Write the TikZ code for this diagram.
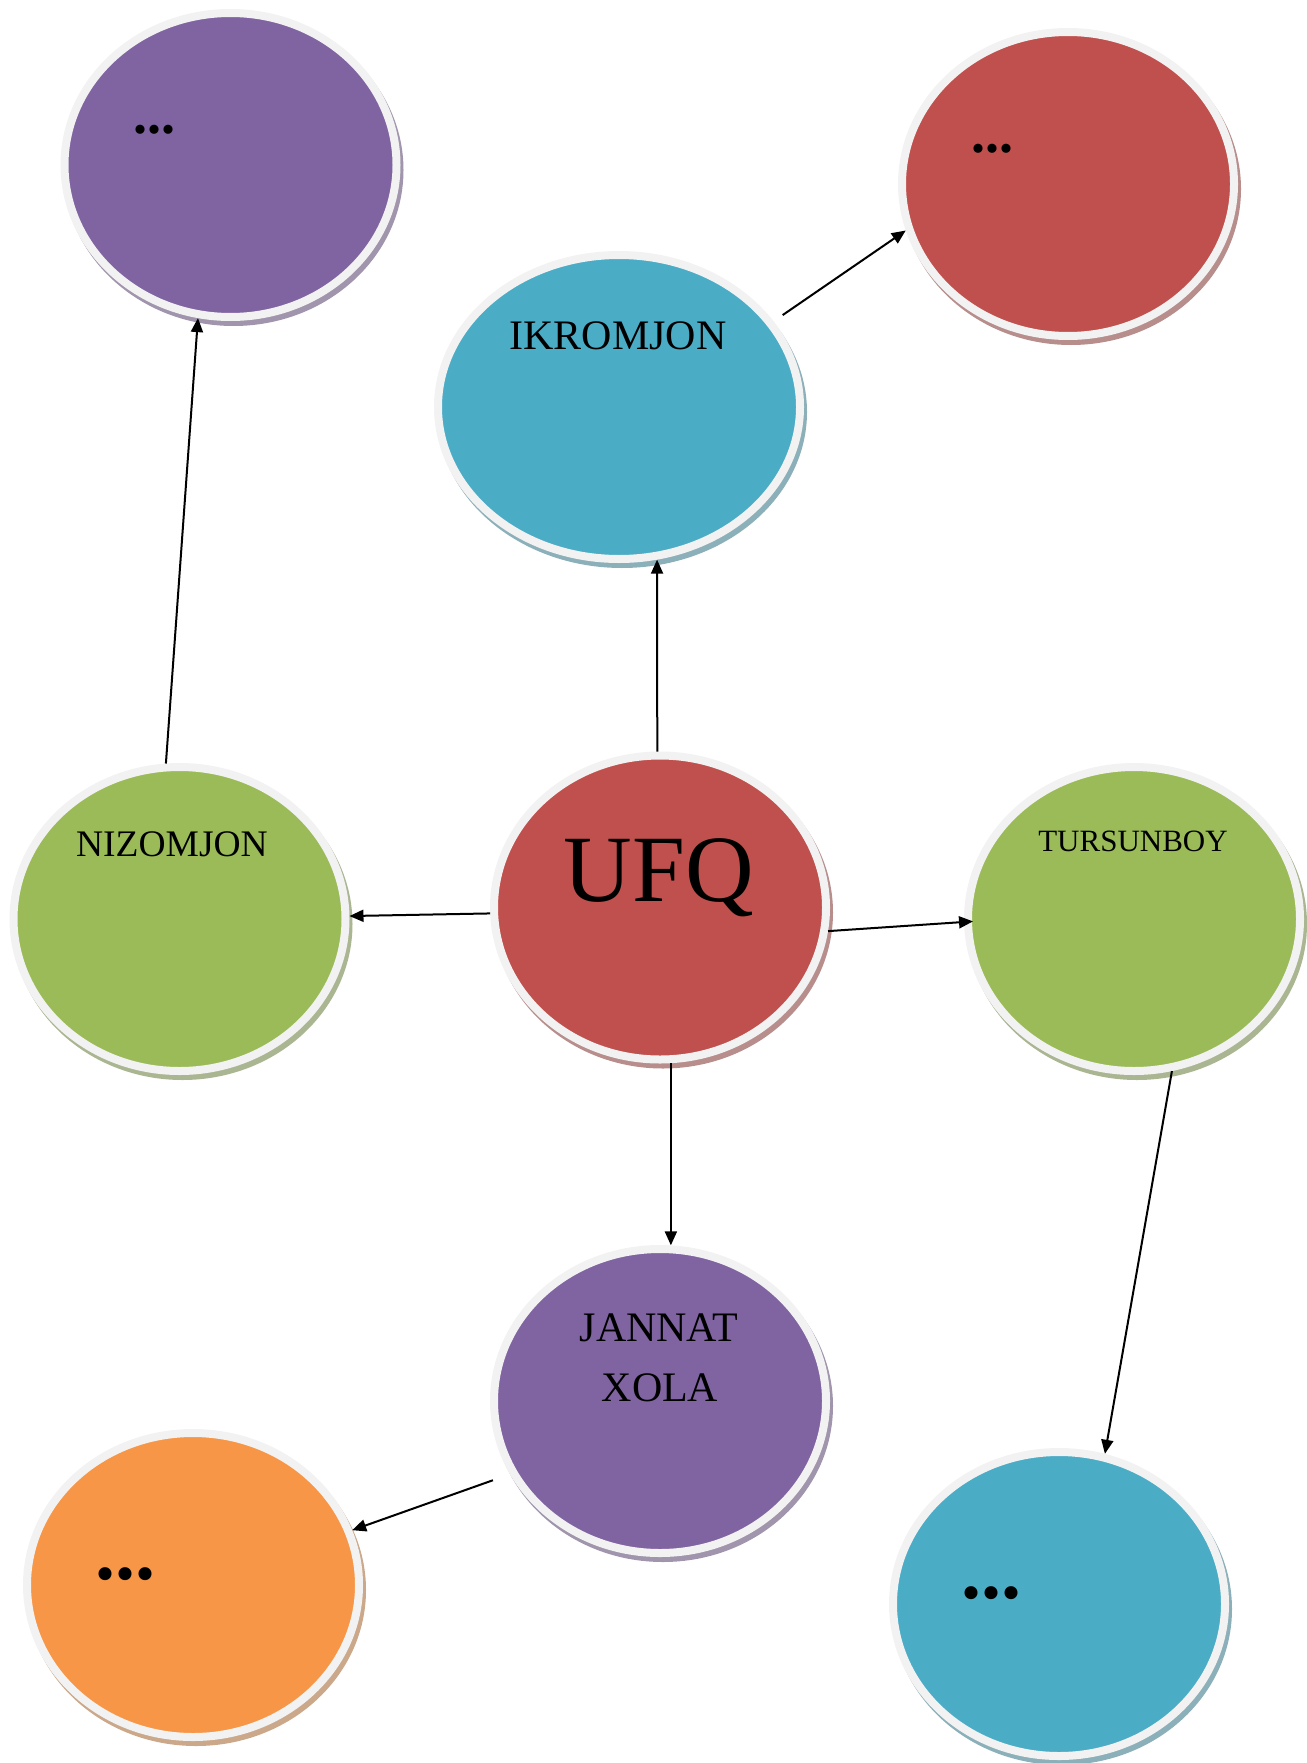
\documentclass[tikz,border=0pt]{standalone}
\usepackage{fontspec}
\setmainfont{Liberation Serif}
\usetikzlibrary{arrows.meta,shapes.geometric}
\definecolor{cPurple}{HTML}{8064A2}
\definecolor{cRed}{HTML}{C0504D}
\definecolor{cTeal}{HTML}{4BACC6}
\definecolor{cGreen}{HTML}{9BBB59}
\definecolor{cOrange}{HTML}{F79646}
\definecolor{cRing}{HTML}{F2F2F2}
\tikzset{
  bubble/.style={ellipse, draw=cRing, line width=8pt, fill=#1,
    minimum width=332pt, minimum height=304pt, inner sep=0pt},
  widebubble/.style={bubble=#1, minimum width=362pt},
  backshade/.style={fill=#1!50!gray!75!white},
  lbl/.style={anchor=base, inner sep=0pt, text=black},
  smalldots/.style={lbl, font=\bfseries\fontsize{56}{56}\selectfont},
  bigdots/.style={lbl, font=\bfseries\fontsize{80}{80}\selectfont},
  conn/.style={line width=2pt, draw=black, -{Triangle[length=14pt,width=12pt]}},
}
\begin{document}
\begin{tikzpicture}[x=1pt,y=-1pt]
\useasboundingbox (0,0) rectangle (1306,1763);
% centres
\coordinate (cP) at (230.5,165);
\coordinate (cR) at (1068,184);
\coordinate (cI) at (619,407);
\coordinate (cU) at (660,907.5);
\coordinate (cN) at (179.5,919);
\coordinate (cT) at (1134,919);
\coordinate (cJ) at (660,1401);
\coordinate (cO) at (193,1585);
\coordinate (cB) at (1059,1604);
% shadows
\path[backshade=cPurple] ([shift={(3,5)}]cP) ellipse [x radius=170pt, y radius=156pt];
\path[backshade=cRed] ([shift={(3,5)}]cR) ellipse [x radius=170pt, y radius=156pt];
\path[backshade=cTeal] ([shift={(3,5)}]cI) ellipse [x radius=185pt, y radius=156pt];
\path[backshade=cRed] ([shift={(3,5)}]cU) ellipse [x radius=170pt, y radius=156pt];
\path[backshade=cGreen] ([shift={(3,5)}]cN) ellipse [x radius=170pt, y radius=156pt];
\path[backshade=cGreen] ([shift={(3,5)}]cT) ellipse [x radius=170pt, y radius=156pt];
\path[backshade=cPurple] ([shift={(3,5)}]cJ) ellipse [x radius=170pt, y radius=156pt];
\path[backshade=cOrange] ([shift={(3,5)}]cO) ellipse [x radius=170pt, y radius=156pt];
\path[backshade=cTeal] ([shift={(3,5)}]cB) ellipse [x radius=170pt, y radius=156pt];
% bubbles
\node[bubble=cPurple] (P) at (cP) {};
\node[bubble=cRed] (R) at (cR) {};
\node[widebubble=cTeal] (I) at (cI) {};
\node[bubble=cRed] (U) at (cU) {};
\node[bubble=cGreen] (N) at (cN) {};
\node[bubble=cGreen] (T) at (cT) {};
\node[bubble=cPurple] (J) at (cJ) {};
\node[bubble=cOrange] (O) at (cO) {};
\node[bubble=cTeal] (B) at (cB) {};
% texts
\node[smalldots] (Pt) at (154,133.5) {...};
\node[smalldots] (Rt) at (992,152.5) {...};
\node[lbl, font=\fontsize{42}{42}\selectfont] (It) at (618,349) {IKROMJON};
\node[lbl, font=\fontsize{95}{95}\selectfont] (Ut) at (659,901) {UFQ};
\node[lbl, font=\fontsize{37.5}{37.5}\selectfont] (Nt) at (172,856.7) {NIZOMJON};
\node[lbl, font=\fontsize{31}{31}\selectfont] (Tt) at (1133,851) {TURSUNBOY};
\node[lbl, font=\fontsize{42}{42}\selectfont] (Jt1) at (659,1341.7) {JANNAT};
\node[lbl, font=\fontsize{42}{42}\selectfont] (Jt2) at (660,1401.7) {XOLA};
\node[bigdots] (Ot) at (125,1579) {...};
\node[bigdots] (Bt) at (991.5,1598) {...};
% connectors
\draw[conn] (U.91.6) -- (I.-76.5);
\draw[conn, shorten <=11pt] (I.29) -- (R.196.5);
\draw[conn] (N.95.4) -- (P.258.1);
\draw[conn] (U.182.2) -- (N.1.7);
\draw[conn, shorten >=-9pt] (U.-8.9) -- (T.181);
\draw[conn] (U.-86.9) -- (J.86.8);
\draw[conn] (T.-76.5) -- (B.73.9);
\draw[conn, shorten <=18pt] (J.206.5) -- (O.19.5);
\end{tikzpicture}
\end{document}
